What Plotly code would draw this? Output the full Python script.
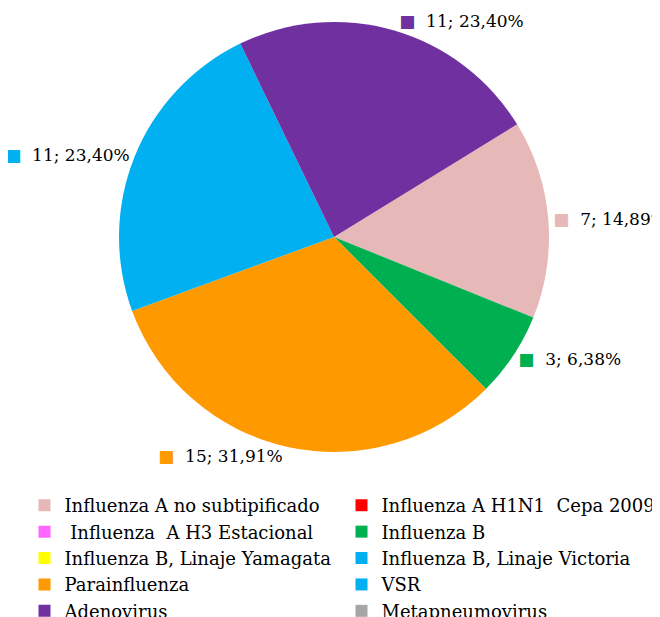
import plotly.graph_objects as go

labels = [
    "Influenza A no subtipificado",
    "Influenza A H1N1  Cepa 2009",
    " Influenza  A H3 Estacional",
    "Influenza B",
    "Influenza B, Linaje Yamagata",
    "Influenza B, Linaje Victoria",
    "Parainfluenza",
    "VSR",
    "Adenovirus",
    "Metapneumovirus",
]
values = [7, 0, 0, 3, 0, 0, 15, 11, 11, 0]
colors = ["#E6B9B8", "#FF0000", "#FF66FF", "#00B050", "#FFFF00",
          "#00B0F0", "#FF9900", "#00B0F0", "#7030A0", "#A6A6A6"]

templates = [
    ("<span style='color:%{color}'>■</span>  %{value}; %{percent:.2%}" if v > 0 else "")
    for v in values
]

FONT = "DejaVu Serif"

fig = go.Figure(go.Pie(
    labels=labels,
    values=values,
    marker=dict(colors=colors, line=dict(width=0)),
    sort=False,
    direction="clockwise",
    rotation=58.4,
    texttemplate=templates,
    textposition="outside",
    textfont=dict(family=FONT, size=17, color="#000000"),
    domain=dict(x=[0.1682, 0.8197], y=[0.2804, 0.9773]),
    hoverinfo="label+value+percent",
    showlegend=True,
))

fig.update_layout(
    width=660,
    height=617,
    margin=dict(l=0, r=0, t=0, b=0, autoexpand=False),
    paper_bgcolor="white",
    plot_bgcolor="white",
    separators=",.",
    font=dict(family=FONT, size=17, color="#000000"),
    legend=dict(
        orientation="h",
        x=0.025,
        xanchor="left",
        y=0.2236,
        yanchor="top",
        entrywidth=272,
        entrywidthmode="pixels",
        font=dict(family=FONT, size=18, color="#000000"),
        traceorder="normal",
        itemclick=False,
    ),
)

fig.write_html("out.html")
